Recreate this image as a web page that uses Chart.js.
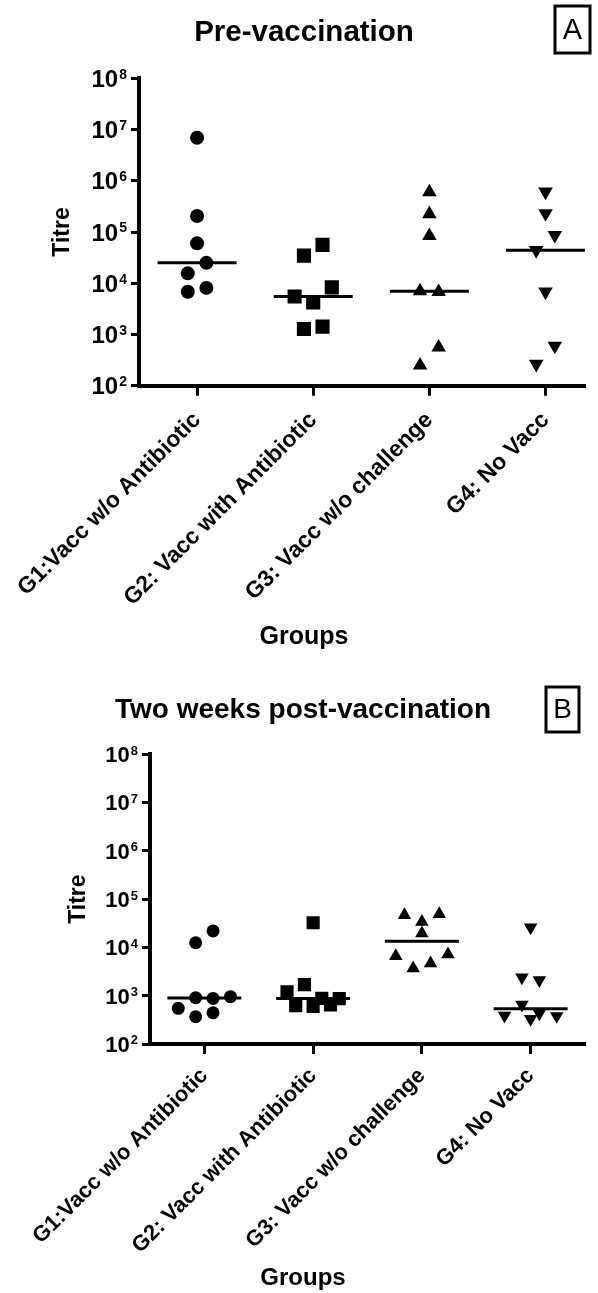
<!DOCTYPE html>
<html>
<head>
<meta charset="utf-8">
<script src="https://cdn.jsdelivr.net/npm/chart.js@4.4.1/dist/chart.umd.min.js"></script>
<style>
  html, body { margin: 0; padding: 0; background: #fff; }
  #figure { position: relative; width: 598px; height: 1293px; }
  canvas { position: absolute; left: 0; }
</style>
</head>
<body>
<div id="figure">
  <canvas id="pre" width="598" height="650" style="top:0"></canvas>
  <canvas id="post" width="598" height="643" style="top:650px"></canvas>
</div>
<script>
// Groups on the x axis
const groups = [
  'G1:Vacc w/o Antibiotic',
  'G2: Vacc with Antibiotic',
  'G3: Vacc w/o challenge',
  'G4: No Vacc'
];
// Powers of ten labelled on the titre axis
const decades = [2, 3, 4, 5, 6, 7, 8];

// Titres before vaccination
const preG1 = [6.9e6, 2.05e5, 6.0e4, 1.56e4, 2.5e4, 6.8e3, 8.1e3];
const preG2 = [3.45e4, 5.6e4, 5.5e3, 4.2e3, 8.3e3, 1.28e3, 1.42e3];
const preG3 = [6.0e5, 2.25e5, 8.4e4, 7.0e3, 6.8e3, 250, 560];
const preG4 = [6.1e5, 2.3e5, 4.4e4, 8.7e4, 6.8e3, 265, 600];

// Titres two weeks after vaccination
const postG1 = [1.25e4, 2.2e4, 548, 910, 880, 955, 367, 444];
const postG2 = [3.25e4, 1.2e3, 1.7e3, 621, 883, 600, 641, 870];
const postG3 = [4.7e4, 3.4e4, 4.9e4, 1.96e4, 6.6e3, 3.7e3, 4.7e3, 7.2e3];
const postG4 = [2.6e4, 2.4e3, 2.1e3, 385, 650, 430, 379, 329];

const SANS = '"Liberation Sans", Arial, Helvetica, sans-serif';

// Marker shapes, one per group (radius in px)
const shapes = [
  { pointStyle: 'circle', radius: 7, rotation: 0 },
  { pointStyle: 'rect', radius: 10, rotation: 0 },
  { pointStyle: 'triangle', radius: 8.4, rotation: 0 },
  { pointStyle: 'triangle', radius: 8.4, rotation: 180 }
];

const LANE = 0.16;        // horizontal spacing of side-by-side points, in group units
const MEDIAN_HALF = 0.34; // half width of the median bar
const ROW_SPAN = 0.365;   // points closer than this (in decades) share a row
const MAX_LANES = Math.floor(2 * MEDIAN_HALF / LANE);

function median(values) {
  const s = [...values].sort((a, b) => a - b);
  const m = s.length >> 1;
  return s.length % 2 ? s[m] : (s[m - 1] + s[m]) / 2;
}

// Column scatter: points that would overlap are laid out side by side, centred on the group
function columnScatter(values, centre) {
  const order = values.map((v, i) => i).sort((a, b) => values[b] - values[a]);
  const rows = [];
  let row = null;
  for (const i of order) {
    const lv = Math.log10(values[i]);
    if (row && row.top - lv < ROW_SPAN && row.idx.length < MAX_LANES) {
      row.idx.push(i);
    } else {
      row = { top: lv, idx: [i] };
      rows.push(row);
    }
  }
  const pts = new Array(values.length);
  rows.forEach(r => {
    r.idx.sort((a, b) => a - b);
    const n = r.idx.length;
    r.idx.forEach((i, k) => {
      pts[i] = { x: centre + (k - (n - 1) / 2) * LANE, y: values[i] };
    });
  });
  return pts;
}

function buildDatasets(series, markerScale) {
  const sets = [];
  series.forEach((vals, g) => {
    const c = g + 1;
    const m = median(vals);
    sets.push({
      type: 'line',
      data: [{ x: c - MEDIAN_HALF, y: m }, { x: c + MEDIAN_HALF, y: m }],
      borderColor: '#000',
      borderWidth: 3,
      pointRadius: 0,
      fill: false,
      order: 1
    });
    sets.push({
      type: 'scatter',
      data: columnScatter(vals, c),
      pointStyle: shapes[g].pointStyle,
      pointRadius: shapes[g].radius * markerScale,
      pointRotation: shapes[g].rotation,
      backgroundColor: '#000',
      borderColor: '#000',
      borderWidth: 0,
      order: 0
    });
  });
  return sets;
}

// "10" with a raised exponent beside every decade tick of the titre axis
const powerLabels = {
  id: 'powerLabels',
  afterDraw(chart, args, o) {
    const s = chart.scales.y;
    const ctx = chart.ctx;
    ctx.save();
    ctx.fillStyle = '#000';
    ctx.textAlign = 'left';
    ctx.textBaseline = 'alphabetic';
    decades.forEach(e => {
      const y = s.getPixelForValue(Math.pow(10, e));
      const base = y + o.size * 0.358;
      ctx.font = 'bold ' + o.size + 'px ' + SANS;
      const w1 = ctx.measureText('10').width;
      ctx.font = 'bold ' + o.expSize + 'px ' + SANS;
      const w2 = ctx.measureText(String(e)).width;
      const x0 = s.right - o.gap - w2 - w1 - o.space;
      ctx.font = 'bold ' + o.size + 'px ' + SANS;
      ctx.fillText('10', x0, base);
      ctx.font = 'bold ' + o.expSize + 'px ' + SANS;
      ctx.fillText(String(e), x0 + w1 + o.space, base - 0.716 * (o.size - o.expSize) - o.lift);
    });
    ctx.restore();
  }
};

// Boxed panel letter in the top-right corner
const panelTag = {
  id: 'panelTag',
  afterDraw(chart, args, o) {
    const ctx = chart.ctx;
    ctx.save();
    ctx.strokeStyle = '#000';
    ctx.lineWidth = 3;
    ctx.strokeRect(o.x, o.y, o.w, o.h);
    ctx.fillStyle = '#000';
    ctx.font = o.size + 'px ' + SANS;
    ctx.textAlign = 'center';
    ctx.textBaseline = 'middle';
    ctx.fillText(o.text, o.x + o.w / 2, o.y + o.h / 2 + 1);
    ctx.restore();
  }
};

Chart.defaults.font.family = SANS;
Chart.defaults.color = '#000';

function makePanel(id, cfg) {
  return new Chart(document.getElementById(id), {
    type: 'scatter',
    data: { datasets: buildDatasets(cfg.series, cfg.markerScale) },
    plugins: [powerLabels, panelTag],
    options: {
      responsive: false,
      animation: false,
      layout: { padding: { top: 0, left: cfg.padLeft, right: 13, bottom: 0 } },
      plugins: {
        legend: { display: false },
        tooltip: { enabled: false },
        title: {
          display: true,
          text: cfg.title,
          color: '#000',
          font: { family: SANS, size: cfg.titleSize, weight: 'bold', lineHeight: 1.0 },
          padding: cfg.titlePad
        },
        subtitle: {
          display: true,
          position: 'bottom',
          text: 'Groups',
          color: '#000',
          font: { family: SANS, size: cfg.groupsSize, weight: 'bold', lineHeight: 1.0 },
          padding: cfg.groupsPad
        },
        powerLabels: cfg.power,
        panelTag: cfg.tag
      },
      scales: {
        x: {
          type: 'linear',
          min: 0.5,
          max: cfg.xMax,
          afterBuildTicks: s => { s.ticks = groups.map((g, i) => ({ value: i + 1 })); },
          afterFit: s => {
            s.height = cfg.xAxisHeight;
            s.paddingLeft = 0;
            s.paddingRight = 0;
          },
          ticks: {
            autoSkip: false,
            minRotation: 45,
            maxRotation: 45,
            padding: cfg.xTickPad,
            color: '#000',
            font: { family: SANS, size: cfg.xLabelSize, weight: 'bold' },
            callback: v => groups[v - 1]
          },
          grid: { drawOnChartArea: false, drawTicks: true, tickLength: 10, tickWidth: 3, tickColor: '#000' },
          border: { display: true, color: '#000', width: 4 }
        },
        y: {
          type: 'logarithmic',
          min: 1e2,
          max: 1e8,
          afterBuildTicks: s => { s.ticks = decades.map(e => ({ value: Math.pow(10, e) })); },
          afterFit: s => {
            s.width = cfg.yAxisWidth;
            s.paddingTop = 0;
            s.paddingBottom = 0;
          },
          ticks: { display: false },
          grid: { drawOnChartArea: false, drawTicks: true, tickLength: 8, tickWidth: 3, tickColor: '#000' },
          border: { display: true, color: '#000', width: 4 },
          title: {
            display: true,
            text: 'Titre',
            color: '#000',
            font: { family: SANS, size: 23, weight: 'bold', lineHeight: 1.0 },
            padding: { top: cfg.titrePad, bottom: 0 }
          }
        }
      }
    }
  });
}

makePanel('pre', {
  series: [preG1, preG2, preG3, preG4],
  markerScale: 1,
  title: 'Pre-vaccination',
  titleSize: 29.5,
  titlePad: { top: 32.5 - 14.75, bottom: 78.3 - 32.5 - 14.75 },
  groupsSize: 25,
  groupsPad: { top: 0, bottom: 0.5 },
  padLeft: 23,
  yAxisWidth: 116,
  xAxisHeight: 650 - 25.5 - 385.7,
  xMax: 4.34,
  xLabelSize: 23,
  xTickPad: 11,
  titrePad: 63 - 23 - 11.5,
  power: { size: 24, expSize: 14, gap: 12, space: 1, lift: 1 },
  tag: { text: 'A', x: 555, y: 6, w: 35, h: 47, size: 29 }
});

makePanel('post', {
  series: [postG1, postG2, postG3, postG4],
  markerScale: 0.93,
  title: 'Two weeks post-vaccination',
  titleSize: 28,
  titlePad: { top: 60.3 - 14, bottom: 104.3 - 60.3 - 14 },
  groupsSize: 24,
  groupsPad: { top: 0, bottom: 3 },
  padLeft: 21,
  yAxisWidth: 129,
  xAxisHeight: 643 - 27 - 394,
  xMax: 4.5,
  xLabelSize: 22,
  xTickPad: 9,
  titrePad: 79 - 21 - 11.5,
  power: { size: 22, expSize: 13, gap: 12, space: 1, lift: 1 },
  tag: { text: 'B', x: 546, y: 37, w: 33, h: 45, size: 28 }
});
</script>
</body>
</html>
